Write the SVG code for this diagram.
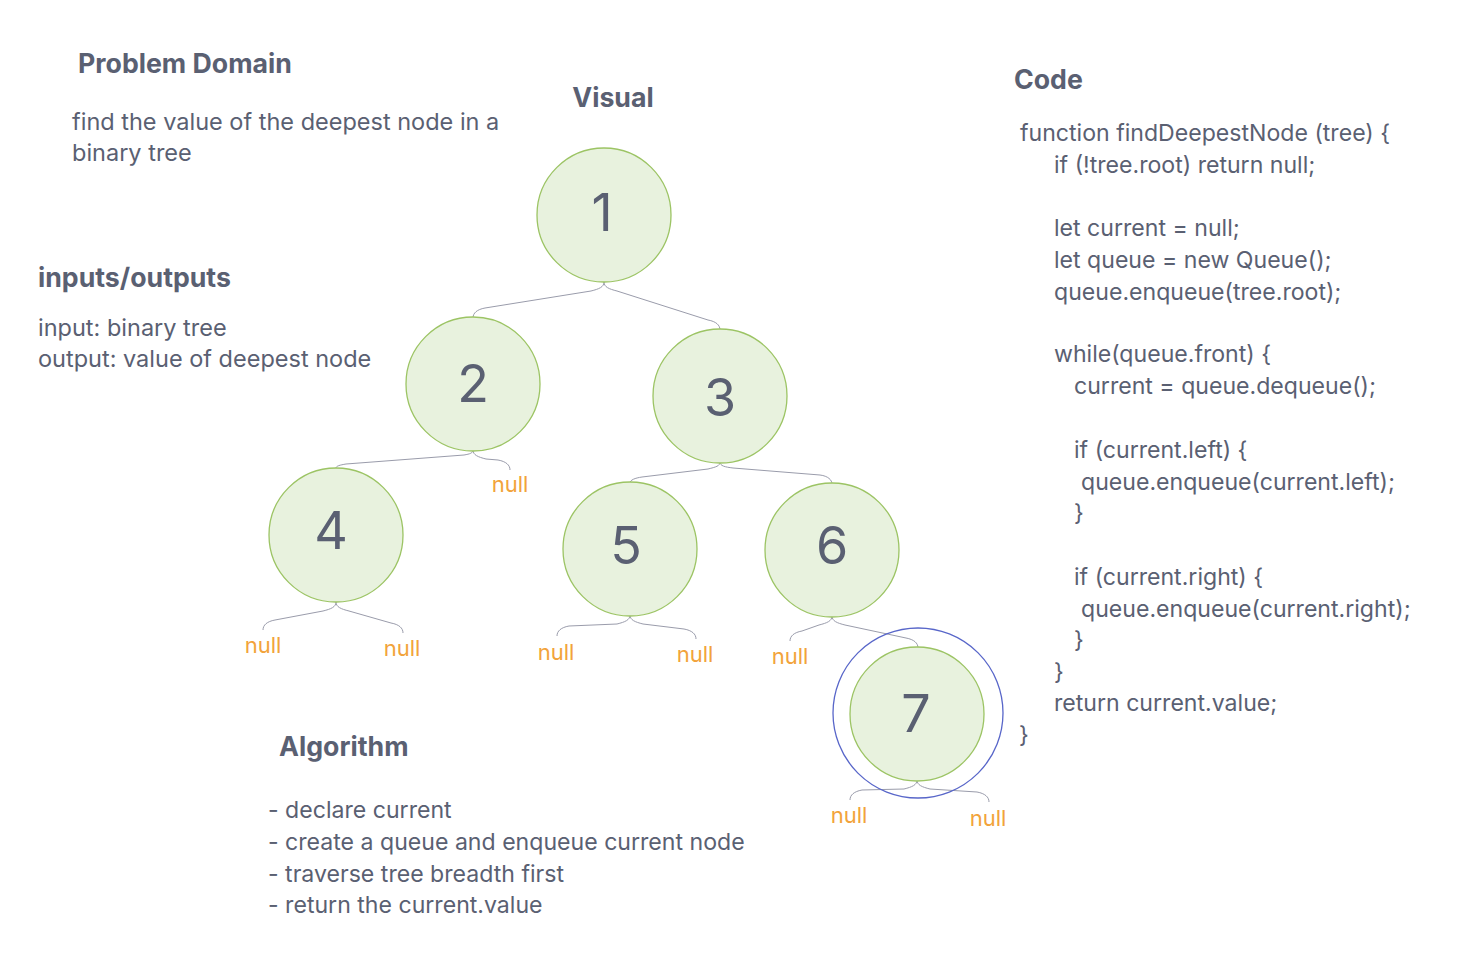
<svg xmlns="http://www.w3.org/2000/svg" width="1470" height="954" viewBox="0 0 1470 954">
<style>
text{font-family:Inter,"Noto Sans","Liberation Sans",sans-serif;fill:#5a6072}
.h{font-weight:700;font-size:26.7px}
.t{font-size:23.5px}
.c{font-size:23.1px}
.num{font-size:52px;text-anchor:middle}
.null{font-size:22px;fill:#f2a33a;text-anchor:middle}
.node{fill:#e8f2de;stroke:#9cc464;stroke-width:1.3}
.conn path{fill:none;stroke:#9a9cab;stroke-width:1}
</style>
<rect width="1470" height="954" fill="#ffffff"/>
<g id="problem-domain">
<text class="h" x="78" y="73">Problem Domain</text>
<text class="t" x="72" y="130">find the value of the deepest node in a</text>
<text class="t" x="72" y="161">binary tree</text>
</g>
<g id="inputs-outputs">
<text class="h" x="38" y="287">inputs/outputs</text>
<text class="t" x="38" y="336">input: binary tree</text>
<text class="t" x="38" y="367">output: value of deepest node</text>
</g>
<g id="visual-title"><text class="h" x="613" y="107" text-anchor="middle">Visual</text></g>
<g id="code">
<text class="h" x="1014" y="89">Code</text>
<text class="c" x="1020" y="141">function findDeepestNode (tree) {</text>
<text class="c" x="1054" y="173">if (!tree.root) return null;</text>
<text class="c" x="1054" y="236">let current = null;</text>
<text class="c" x="1054" y="268">let queue = new Queue();</text>
<text class="c" x="1054" y="300">queue.enqueue(tree.root);</text>
<text class="c" x="1054" y="362">while(queue.front) {</text>
<text class="c" x="1074" y="394">current = queue.dequeue();</text>
<text class="c" x="1074" y="458">if (current.left) {</text>
<text class="c" x="1081" y="490">queue.enqueue(current.left);</text>
<text class="c" x="1074" y="521">}</text>
<text class="c" x="1074" y="585">if (current.right) {</text>
<text class="c" x="1081" y="617">queue.enqueue(current.right);</text>
<text class="c" x="1074" y="648">}</text>
<text class="c" x="1054" y="680">}</text>
<text class="c" x="1054" y="711">return current.value;</text>
<text class="c" x="1019" y="743">}</text>
</g>
<g id="algorithm">
<text class="h" x="279" y="756">Algorithm</text>
<text class="c" x="268" y="818">- declare current</text>
<text class="c" x="268" y="850">- create a queue and enqueue current node</text>
<text class="c" x="268" y="882">- traverse tree breadth first</text>
<text class="c" x="268" y="913">- return the current.value</text>
</g>
<g id="connectors" class="conn">
<path d="M604,282 C604,287 599,289 591,291 L485,308 C477,309.5 473,313 473,318"/>
<path d="M604,282 C604,287 609,289 617,291 L708,320 C716,321.5 720,325 720,330"/>
<path d="M473,450 C473,453 470,454 464,455 L346,464 C340,465 336,466 336,468"/>
<path d="M473,450 C473,455 478,457 486,459 L498,460 C506,461.5 510,465 510,470"/>
<path d="M720,462 C720,466 716,467 708,469 L642,477 C635,478 630,480 630,483"/>
<path d="M720,462 C720,466 725,467 733,468 L820,475 C828,476 832,480 832,484"/>
<path d="M336,602 C336,607 331,609 323,611 L275,620 C267,621.5 263,625 263,630"/>
<path d="M336,602 C336,607 341,609 349,611 L391,623 C399,624.5 403,628 403,633"/>
<path d="M630,615 C630,620 625,622 617,624 L569,626 C561,627.5 557,631 557,636"/>
<path d="M630,615 C630,620 635,622 643,624 L684,629 C692,630.5 696,634 696,639"/>
<path d="M832,616 C832,621 827,623 819,625 L802,631 C794,632.5 790,636 790,641"/>
<path d="M832,616 C832,621 837,623 845,625 L906,638 C914,639.5 918,643 918,648"/>
<path d="M917,780 C917,785 912,787 904,789 L862,790 C854,791.5 850,795 850,800"/>
<path d="M917,780 C917,785 922,787 930,789 L977,792 C985,793.5 989,797 989,802"/>
</g>
<g id="node-1"><circle class="node" cx="604" cy="215" r="67"/><text class="num" x="602" y="231">1</text></g>
<g id="node-2"><circle class="node" cx="473" cy="384" r="67"/><text class="num" x="473" y="402">2</text></g>
<g id="node-3"><circle class="node" cx="720" cy="396" r="67"/><text class="num" x="720" y="416">3</text></g>
<g id="node-4"><circle class="node" cx="336" cy="535" r="67"/><text class="num" x="331" y="549">4</text></g>
<g id="node-5"><circle class="node" cx="630" cy="549" r="67"/><text class="num" x="626" y="564">5</text></g>
<g id="node-6"><circle class="node" cx="832" cy="550" r="67"/><text class="num" x="832" y="564">6</text></g>
<g id="node-7"><circle class="node" cx="917" cy="714" r="67"/><text class="num" x="916" y="732">7</text></g>
<g id="highlight"><circle cx="918" cy="713" r="85" fill="none" stroke="#5866c9" stroke-width="1.3"/></g>
<g id="null-labels">
<text class="null" x="510" y="492">null</text>
<text class="null" x="263" y="653">null</text>
<text class="null" x="402" y="656">null</text>
<text class="null" x="556" y="660">null</text>
<text class="null" x="695" y="662">null</text>
<text class="null" x="790" y="664">null</text>
<text class="null" x="849" y="823">null</text>
<text class="null" x="988" y="826">null</text>
</g>
</svg>
